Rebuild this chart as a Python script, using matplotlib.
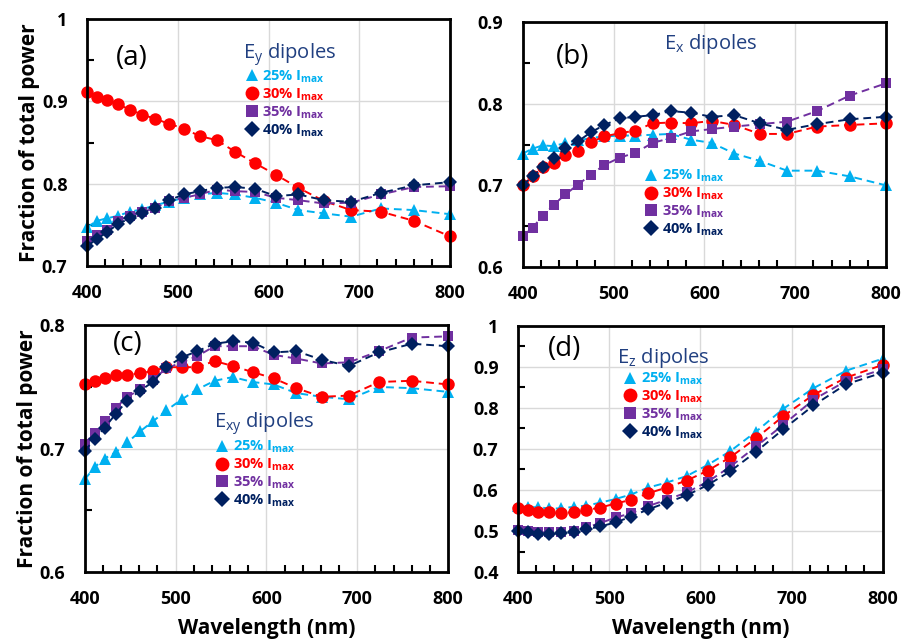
import numpy as np
import matplotlib
matplotlib.use("Agg")
import matplotlib.pyplot as plt
from matplotlib.lines import Line2D
from matplotlib.ticker import MultipleLocator, FormatStrFormatter

plt.rcParams['font.family'] = ['Open Sans', 'DejaVu Sans']
plt.rcParams['mathtext.fontset'] = 'custom'
plt.rcParams['mathtext.rm'] = 'Open Sans'
plt.rcParams['mathtext.it'] = 'Open Sans'
plt.rcParams['mathtext.bf'] = 'Open Sans:bold'

wl = [400, 411, 422, 434, 447, 461, 475, 490, 507, 524,
      543, 563, 585, 608, 633, 661, 691, 724, 760, 800]

# (a) Ey dipoles
a_25 = [0.747, 0.755, 0.758, 0.761, 0.766, 0.769, 0.774, 0.778, 0.783, 0.787,
        0.789, 0.787, 0.783, 0.777, 0.768, 0.764, 0.760, 0.770, 0.768, 0.763]
a_30 = [0.912, 0.906, 0.902, 0.897, 0.890, 0.884, 0.879, 0.873, 0.867, 0.858,
        0.853, 0.839, 0.825, 0.811, 0.795, 0.779, 0.768, 0.766, 0.755, 0.736]
a_35 = [0.730, 0.738, 0.744, 0.755, 0.761, 0.766, 0.770, 0.779, 0.783, 0.787,
        0.793, 0.791, 0.790, 0.783, 0.780, 0.776, 0.777, 0.787, 0.796, 0.797]
a_40 = [0.724, 0.733, 0.741, 0.751, 0.758, 0.764, 0.771, 0.780, 0.787, 0.791,
        0.795, 0.796, 0.794, 0.785, 0.787, 0.780, 0.778, 0.789, 0.798, 0.802]

# (b) Ex dipoles
b_25 = [0.739, 0.745, 0.749, 0.748, 0.752, 0.755, 0.758, 0.760, 0.761, 0.761,
        0.762, 0.763, 0.756, 0.752, 0.739, 0.730, 0.718, 0.718, 0.711, 0.700]
b_30 = [0.700, 0.711, 0.723, 0.728, 0.737, 0.742, 0.753, 0.760, 0.764, 0.767,
        0.776, 0.777, 0.776, 0.779, 0.774, 0.763, 0.763, 0.772, 0.774, 0.776]
b_35 = [0.638, 0.648, 0.663, 0.676, 0.689, 0.701, 0.713, 0.725, 0.734, 0.740,
        0.752, 0.758, 0.766, 0.769, 0.772, 0.775, 0.778, 0.791, 0.810, 0.825]
b_40 = [0.700, 0.711, 0.722, 0.733, 0.746, 0.754, 0.765, 0.774, 0.782, 0.784,
        0.786, 0.791, 0.789, 0.784, 0.786, 0.776, 0.768, 0.775, 0.781, 0.784]

# (c) Exy dipoles
c_25 = [0.675, 0.685, 0.692, 0.697, 0.705, 0.714, 0.722, 0.731, 0.740, 0.748,
        0.755, 0.758, 0.754, 0.752, 0.745, 0.742, 0.740, 0.750, 0.749, 0.746]
c_30 = [0.752, 0.755, 0.757, 0.760, 0.760, 0.761, 0.763, 0.766, 0.766, 0.766,
        0.771, 0.767, 0.762, 0.757, 0.749, 0.742, 0.743, 0.754, 0.755, 0.752]
c_35 = [0.704, 0.713, 0.722, 0.733, 0.742, 0.748, 0.756, 0.765, 0.770, 0.775,
        0.783, 0.783, 0.783, 0.776, 0.773, 0.769, 0.770, 0.779, 0.790, 0.791]
c_40 = [0.698, 0.708, 0.717, 0.728, 0.739, 0.747, 0.754, 0.766, 0.774, 0.779,
        0.785, 0.787, 0.786, 0.778, 0.779, 0.772, 0.767, 0.778, 0.785, 0.783]

# (d) Ez dipoles
d_25 = [0.561, 0.558, 0.558, 0.555, 0.555, 0.559, 0.562, 0.569, 0.578, 0.589,
        0.606, 0.618, 0.634, 0.661, 0.695, 0.742, 0.798, 0.848, 0.891, 0.920]
d_30 = [0.555, 0.550, 0.546, 0.546, 0.543, 0.546, 0.551, 0.557, 0.567, 0.576,
        0.592, 0.606, 0.623, 0.647, 0.680, 0.726, 0.780, 0.832, 0.874, 0.905]
d_35 = [0.502, 0.501, 0.497, 0.497, 0.497, 0.501, 0.509, 0.519, 0.533, 0.543,
        0.561, 0.576, 0.594, 0.620, 0.657, 0.706, 0.759, 0.820, 0.866, 0.894]
d_40 = [0.501, 0.498, 0.493, 0.493, 0.494, 0.497, 0.504, 0.511, 0.521, 0.535,
        0.553, 0.569, 0.587, 0.612, 0.646, 0.693, 0.748, 0.806, 0.858, 0.886]

labels = ['25% I$_\\mathbf{max}$', '30% I$_\\mathbf{max}$',
          '35% I$_\\mathbf{max}$', '40% I$_\\mathbf{max}$']
colors = ['#00B0F0', '#FF0000', '#7030A0', '#002060']
markers = ['^', 'o', 's', 'D']
msizes = [8, 9, 7.5, 7]
navy = '#203F80'

panels = [
    dict(pos=[0.0965, 0.585, 0.4024, 0.385], data=[a_25, a_30, a_35, a_40],
         ylim=(0.7, 1.0), tag='(a)', tagxy=(0.08, 0.90),
         title='E$_\\mathregular{y}$ dipoles', titlexy=(0.43, 0.91), leg=(0.439, 0.80)),
    dict(pos=[0.5795, 0.5835, 0.4028, 0.382], data=[b_25, b_30, b_35, b_40],
         ylim=(0.6, 0.9), tag='(b)', tagxy=(0.092, 0.915),
         title='E$_\\mathregular{x}$ dipoles', titlexy=(0.389, 0.96), leg=(0.338, 0.405)),
    dict(pos=[0.0939, 0.1076, 0.4028, 0.385], data=[c_25, c_30, c_35, c_40],
         ylim=(0.6, 0.8), tag='(c)', tagxy=(0.078, 0.98),
         title='E$_\\mathregular{xy}$ dipoles', titlexy=(0.356, 0.655), leg=(0.363, 0.54)),
    dict(pos=[0.5743, 0.1076, 0.4043, 0.384], data=[d_25, d_30, d_35, d_40],
         ylim=(0.4, 1.0), tag='(d)', tagxy=(0.082, 0.963),
         title='E$_\\mathregular{z}$ dipoles', titlexy=(0.271, 0.92), leg=(0.292, 0.818)),
]

fig = plt.figure(figsize=(9.02, 6.41), dpi=100)

for i, p in enumerate(panels):
    ax = fig.add_axes(p['pos'])
    for ys, c, m, s in zip(p['data'], colors, markers, msizes):
        ax.plot(wl, ys, color=c, linestyle='--', linewidth=1.4, dashes=(4, 2.5),
                marker=m, markersize=s, markeredgewidth=0, clip_on=False, zorder=3)
    ax.set_xlim(400, 800)
    ax.set_ylim(*p['ylim'])
    ax.xaxis.set_major_locator(MultipleLocator(100))
    ax.xaxis.set_minor_locator(MultipleLocator(20))
    ax.yaxis.set_major_locator(MultipleLocator(0.1))
    ax.yaxis.set_minor_locator(MultipleLocator(0.05))
    ax.yaxis.set_major_formatter(FormatStrFormatter('%g'))
    ax.grid(True, which='major', color='#d9d9d9', linewidth=1.0, zorder=0)
    ax.set_axisbelow(True)
    ax.tick_params(which='major', length=0, labelsize=13)
    ax.tick_params(axis='x', which='major', pad=13)
    ax.tick_params(axis='y', which='major', pad=14)
    ax.tick_params(which='minor', direction='in', length=5, width=1.5, color='black')
    for lab in ax.get_xticklabels() + ax.get_yticklabels():
        lab.set_fontweight('bold')
    for sp in ax.spines.values():
        sp.set_linewidth(2)
        sp.set_color('black')
        sp.set_zorder(5)
    ax.text(p['tagxy'][0], p['tagxy'][1], p['tag'], transform=ax.transAxes,
            fontsize=20, va='top', ha='left')
    ax.text(p['titlexy'][0], p['titlexy'][1], p['title'], transform=ax.transAxes,
            fontsize=14.5, va='top', ha='left', color=navy)
    handles = [Line2D([], [], color=c, marker=m, linestyle='none', markersize=s + 1,
                      markeredgewidth=0)
               for c, m, s in zip(colors, markers, msizes)]
    leg = ax.legend(handles, labels, loc='upper left', bbox_to_anchor=p['leg'],
                    frameon=False, handletextpad=0.3, labelspacing=0.1,
                    borderpad=0, borderaxespad=0, handlelength=0.8,
                    prop=dict(size=10.5, weight='bold'))
    for t, c in zip(leg.get_texts(), colors):
        t.set_color(c)
    if i % 2 == 0:
        ax.set_ylabel('Fraction of total power', fontsize=15, fontweight='bold', labelpad=1)
    if i >= 2:
        ax.set_xlabel('Wavelength (nm)', fontsize=15, fontweight='bold', labelpad=7)

fig.savefig('out.png', dpi=100)
